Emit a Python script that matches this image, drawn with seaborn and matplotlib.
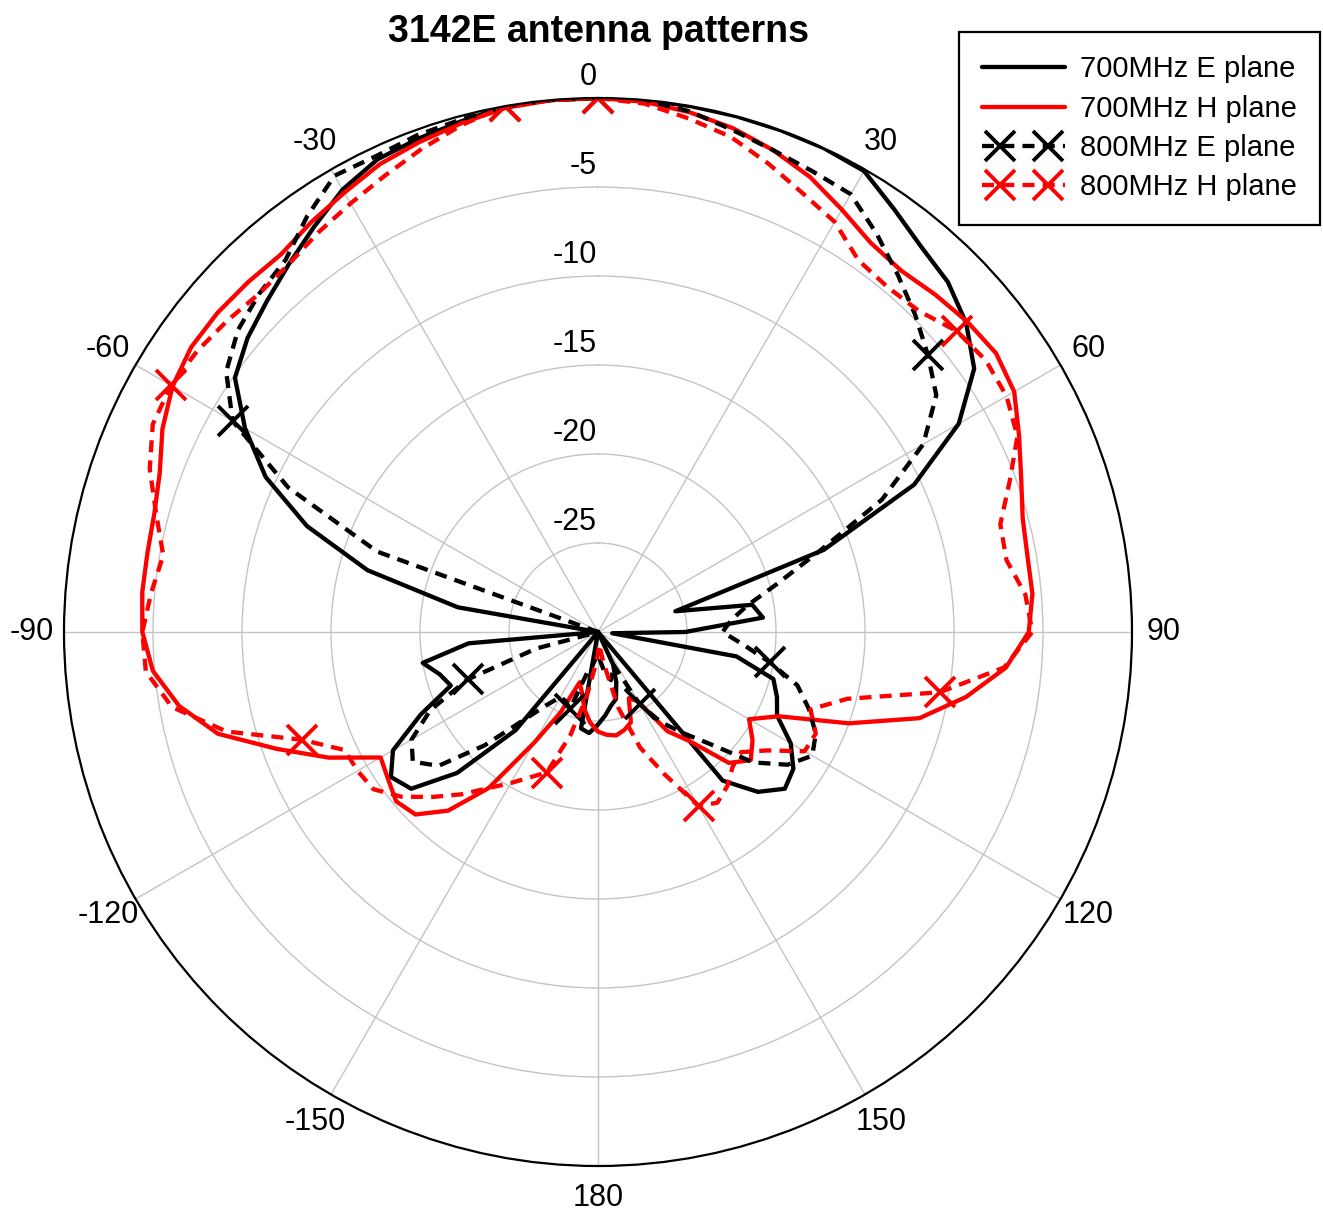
import numpy as np
import pandas as pd
import seaborn as sns
import matplotlib
matplotlib.use("Agg")
from matplotlib import pyplot as plt
from matplotlib.lines import Line2D
from matplotlib.legend_handler import HandlerLine2D

# measured gain (dB) every 5 degrees, clockwise from boresight (0..355)
ANGLES_DEG = list(range(0, 360, 5))

E_700MHZ = [0, 0, 0, 0, 0, 0, -0.1, -1.0, -1.75, -2.2,
            -3.0, -4.2, -6.6, -10.4, -16.5, -25.5, -21.2, -20.7, -25.1, -29.2,
            -22.1, -19.8, -19.3, -18.9, -17.5, -16.6, -16.3, -17.3, -19.1, -30,
            -30, -28.0, -27.0, -26.1, -25.8, -25.3, -24.8, -24.3, -24.5, -30,
            -30, -30, -30, -30, -22.8, -18.8, -16.3, -15.8, -16.7, -19.0,
            -21.2, -20.8, -20.0, -22.7, -30, -30, -22.0, -16.6, -12.6, -9.4,
            -7.1, -5.1, -4.3, -3.7, -3.0, -2.2, -1.3, -0.7, -0.5, -0.3,
            0, 0]

H_700MHZ = [0, -0.1, -0.35, -0.7, -1.2, -1.8, -2.6, -3.3, -3.5, -3.2,
            -2.9, -2.7, -3.0, -3.9, -4.7, -5.3, -5.5, -5.5, -5.8, -7.0,
            -9.0, -11.3, -15.0, -18.8, -20.2, -19.4, -18.8, -19.6, -22.0, -23.2,
            -25.5, -25.9, -24.6, -24.3, -24.1, -24.2, -24.4, -24.9, -25.6, -26.5,
            -27.0, -25.0, -22.8, -19.3, -16.9, -15.5, -15.2, -15.6, -15.9, -13.3,
            -10.8, -7.9, -6.1, -4.9, -4.4, -4.3, -4.3, -4.2, -3.8, -3.0,
            -2.4, -2.1, -2.1, -2.2, -2.3, -1.9, -1.5, -1.0, -0.7, -0.4,
            -0.1, 0]

E_800MHZ = [0, 0, -0.3, -0.8, -1.2, -1.45, -1.6, -2.7, -3.8, -4.8,
            -5.8, -6.8, -8.9, -12.4, -16.8, -19.6, -21.5, -22.5, -23.0, -21.8,
            -20.2, -18.4, -17.4, -16.5, -16.1, -17.0, -18.6, -21.1, -22.6, -23.8,
            -25.3, -28.0, -27.6, -27.2, -27.6, -28.3, -28.8, -28.5, -28.0, -27.6,
            -25.4, -25.7, -25.8, -25.0, -23.6, -21.0, -18.3, -17.3, -17.9, -19.6,
            -22.2, -26.4, -30, -30, -30, -30, -30, -30, -16.8, -10.8,
            -6.3, -4.5, -3.6, -3.1, -2.7, -1.5, -0.4, -0.5, -0.3, -0.2,
            0, 0]

H_800MHZ = [0, -0.2, -0.7, -1.2, -2.0, -2.8, -3.4, -4.5, -4.7, -4.5,
            -3.7, -3.4, -3.5, -4.0, -5.4, -6.6, -6.7, -5.9, -5.6, -7.1,
            -10.5, -15.5, -17.3, -16.5, -16.6, -18.4, -19.5, -19.3, -18.7, -18.3,
            -18.7, -21.2, -23.1, -25.6, -28.3, -29.3, -28.8, -28.0, -26.3, -24.0,
            -21.6, -21.0, -20.2, -19.3, -18.1, -16.9, -15.6, -14.6, -14.4, -14.3,
            -12.3, -8.4, -5.7, -4.5, -4.4, -4.8, -5.2, -4.3, -3.2, -2.4,
            -2.3, -2.5, -2.8, -3.1, -3.0, -2.6, -2.2, -1.7, -1.1, -0.5,
            0, 0]

LABELS = ["700MHz E plane", "700MHz H plane", "800MHz E plane", "800MHz H plane"]
ANGLE_TICKS = [30, 60, 90, 120, 150, 180, 210, 240, 270, 300, 330]
ANGLE_TICK_LABELS = ["30", "60", "90", "120", "150", "180",
                     "-150", "-120", "-90", "-60", "-30"]
GAIN_TICKS = [-25, -20, -15, -10, -5, 0]

DASH = (0, (2.8, 1.9))
STYLES = [
    dict(color="black", linestyle="-", marker=None),
    dict(color="#ff0000", linestyle="-", marker=None),
    dict(color="black", linestyle=DASH, marker="x"),
    dict(color="#ff0000", linestyle=DASH, marker="x"),
]
LW = 3.1
MS = 21
MEW = 2.8


def to_frame(values):
    # close the loop by repeating the first sample at 360 deg
    theta = np.deg2rad(ANGLES_DEG + [360])
    return pd.DataFrame({"theta": theta, "gain": list(values) + [values[0]]})


def main():
    sns.set_style("white", rc={"text.color": "black", "axes.labelcolor": "black",
                               "xtick.color": "black", "ytick.color": "black"})
    plt.rcParams["font.family"] = ["Liberation Sans Narrow", "Liberation Sans", "DejaVu Sans"]

    W, H = 1323, 1228
    fig = plt.figure(figsize=(W / 100, H / 100), dpi=100)
    cx, cy, R = 598, 632, 534
    ax = fig.add_axes([(cx - R) / W, (H - cy - R) / H, 2 * R / W, 2 * R / H],
                      projection="polar")
    ax.set_theta_zero_location("N")
    ax.set_theta_direction(-1)

    handles = []
    hmap = {}
    for values, label, st in zip([E_700MHZ, H_700MHZ, E_800MHZ, H_800MHZ], LABELS, STYLES):
        kw = dict(color=st["color"], linestyle=st["linestyle"], linewidth=LW)
        if st["marker"]:
            kw.update(marker="x", markersize=MS, markeredgewidth=MEW,
                      markeredgecolor=st["color"], markevery=10)
        sns.lineplot(data=to_frame(values), x="theta", y="gain", ax=ax,
                     sort=False, estimator=None, errorbar=None, legend=False, **kw)

        # legend proxy: full-length line, markers set in from the ends
        line = Line2D([], [], color=st["color"], linestyle=st["linestyle"], linewidth=LW)
        hmap[line] = HandlerLine2D(marker_pad=0, numpoints=2)
        if st["marker"]:
            marks = Line2D([], [], linestyle="none", marker="x", markersize=MS,
                           markeredgewidth=MEW, markeredgecolor=st["color"])
            hmap[marks] = HandlerLine2D(marker_pad=0.6, numpoints=2)
            handles.append((line, marks))
        else:
            handles.append(line)

    ax.set_ylim(-30, 0)
    ax.set_xlabel("")
    ax.set_ylabel("")
    ax.set_yticks(GAIN_TICKS[:-1])
    ax.set_yticklabels([])
    ax.set_xticks(np.deg2rad(ANGLE_TICKS))
    ax.set_xticklabels([])
    ax.grid(True, color="#c4c4c4", linewidth=1.0)
    ax.spines["polar"].set_color("black")
    ax.spines["polar"].set_linewidth(1.6)

    for g in GAIN_TICKS:
        ax.annotate(str(g), xy=(0, g), xytext=(-1, 4), textcoords="offset points",
                    ha="right", va="bottom", fontsize=22, annotation_clip=False)
    for a, lab in zip(ANGLE_TICKS, ANGLE_TICK_LABELS):
        ax.text(np.deg2rad(a), 1.8, lab, ha="center", va="center", fontsize=22,
                clip_on=False)

    fig.text(cx / W, 1 - 32 / H, "3142E antenna patterns", ha="center", va="center",
             fontsize=27, fontweight="bold")

    leg = ax.legend(handles, LABELS, loc="upper right", handler_map=hmap,
                    bbox_to_anchor=(1320 / W, 1 - 32 / H), bbox_transform=fig.transFigure,
                    borderaxespad=0, fontsize=21, frameon=True, fancybox=False,
                    edgecolor="black", framealpha=1, handlelength=2.84,
                    handletextpad=0.5, labelspacing=0.39, borderpad=0.8)
    leg.get_frame().set_linewidth(1.6)

    fig.savefig("out.png", dpi=100)


if __name__ == "__main__":
    main()
